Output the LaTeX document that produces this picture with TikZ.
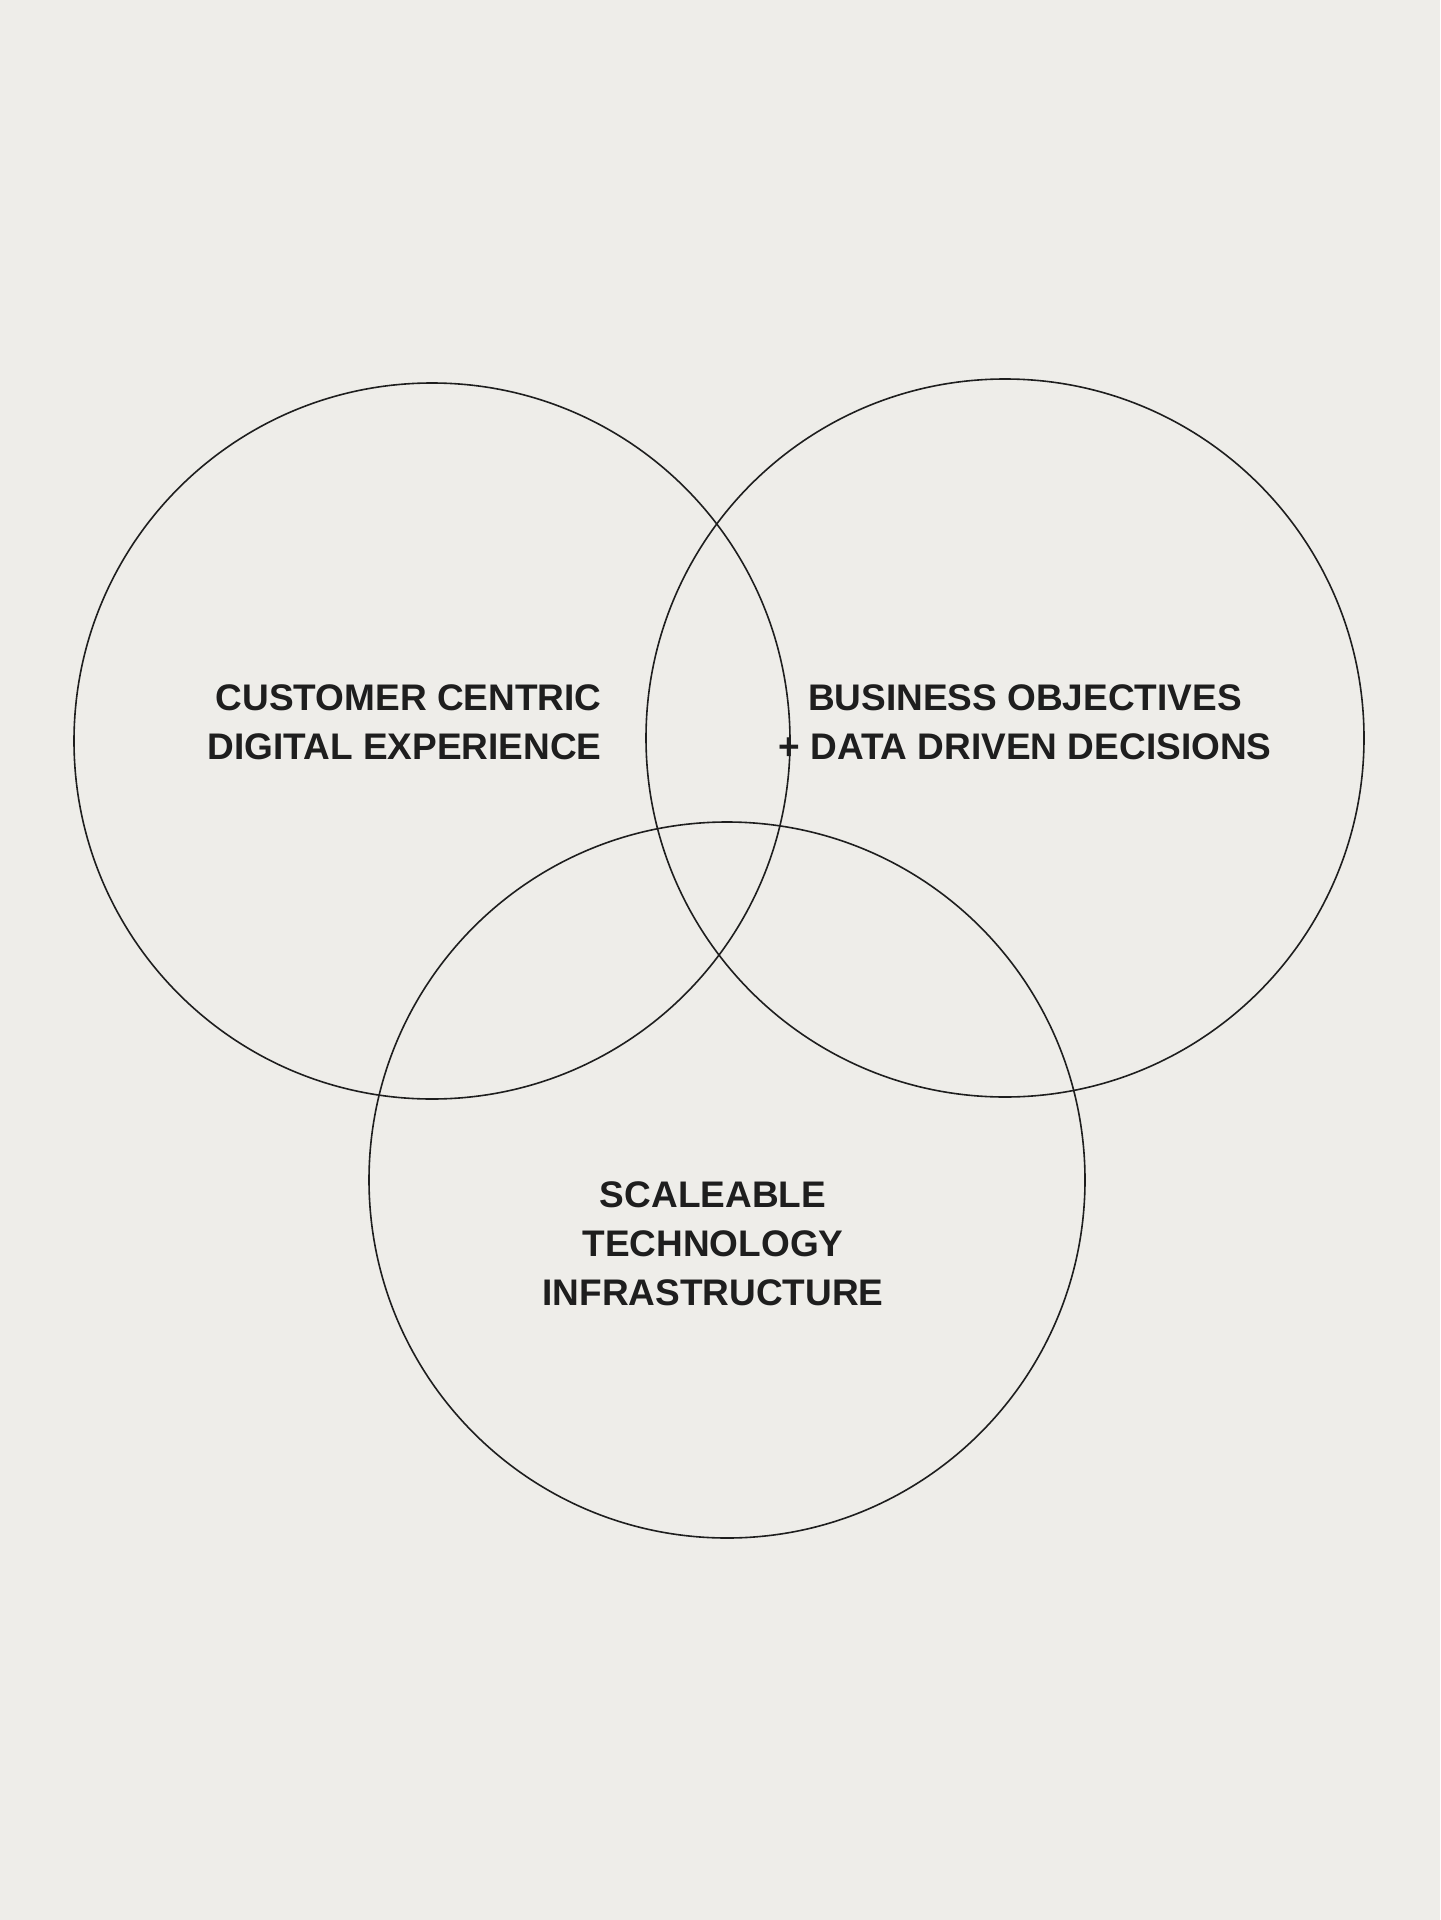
\documentclass[tikz,border=0pt]{standalone}
\usepackage{fontspec}
\setmainfont{Liberation Sans}
\definecolor{bg}{HTML}{EEEDE9}
\definecolor{ink}{HTML}{1E1E1E}
\definecolor{astf}{HTML}{B0547A}
\definecolor{astg}{HTML}{4CB86A}
\begin{document}
\begin{tikzpicture}[x=0.5pt,y=-0.5pt,
  ring/.style={draw=ink,line width=0.8pt},
  lbl/.style={text=ink,font=\fontsize{18.5}{24.5}\selectfont\bfseries,inner sep=0pt}]
\fill[bg] (0,0) rectangle (1440,1920);
\useasboundingbox (0,0) rectangle (1440,1920);
\draw[ring] (432,741) circle[radius=358];
\draw[ring] (1005,738) circle[radius=359];
\draw[ring] (727,1180) circle[radius=358];
\node[lbl,align=right,anchor=east] (a) at (602,722) {CUSTOMER CENTRIC\\DIGITAL EXPERIENCE};
\node[lbl,align=center] (b) at (1025,722) {BUSINESS OBJECTIVES\\+ DATA DRIVEN DECISIONS};
\node[lbl,align=center] (c) at (713,1244) {SCALEABLE\\TECHNOLOGY\\INFRASTRUCTURE};
\begin{scope}[shift={(715,868)},y=0.5pt]
\def\R{27}\def\w{8.5}\def\ri{14.5}
\fill[astf,draw=astg,line width=1.6pt,line join=miter]
 \foreach \k [count=\i] in {0,...,4} {
   \pgfextra{\pgfmathsetmacro\a{90+72*\k}}
   ({\R*cos(\a)-\w*sin(\a)},{\R*sin(\a)+\w*cos(\a)}) \ifnum\i=1 \else\fi
 } -- cycle;
\end{scope}
\end{tikzpicture}
\end{document}
